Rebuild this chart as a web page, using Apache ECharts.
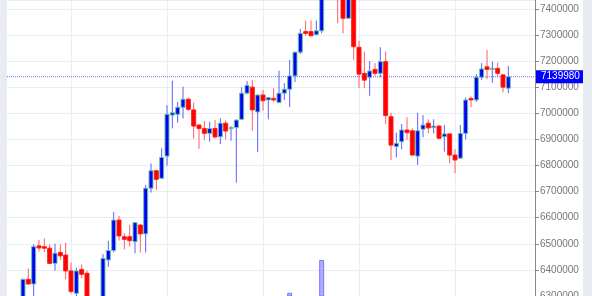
<!DOCTYPE html>
<html>
<head>
<meta charset="utf-8">
<script src="https://cdn.jsdelivr.net/npm/echarts@6/dist/echarts.min.js"></script>
<style>
  html, body { margin: 0; padding: 0; background: #e8ebef; }
  #chart { position: absolute; left: 7px; top: 0; width: 576px; height: 296px; background: #fff; }
</style>
</head>
<body>
<div id="chart"></div>
<script>
// first candle sits on category 3 of the axis
const FIRST = 3;
const categories = Array.from({length: 100}, (_, i) => String(i));

const opens = [
  6266000, 6364000, 6346000, 6492000, 6489000, 6483000, 6425000, 6467000, 6457000, 6396000,
  6310000, 6402000, 6387000, 6262000, 6245000, 6270000, 6438000, 6474000, 6591000, 6527000,
  6527000, 6508000, 6572000, 6538000, 6713000, 6780000, 6751000, 6836000, 6993000, 6996000,
  7023000, 7054000, 7013000, 6955000, 6942000, 6923000, 6942000, 6910000, 6962000, 6941000,
  6945000, 6977000, 7077000, 7100000, 7005000, 7070000, 7051000, 7057000, 7041000, 7077000,
  7092000, 7143000, 7234000, 7313000, 7313000, 7301000, 7316000, 7490000, 7540000, 7520000,
  7470000, 7364000, 7445000, 7253000, 7153000, 7138000, 7168000, 7153000, 7198000, 6987000,
  6872000, 6891000, 6936000, 6933000, 6836000, 6939000, 6962000, 6945000, 6951000, 6910000,
  6921000, 6840000, 6828000, 6923000, 7057000, 7051000, 7138000, 7178000, 7168000, 7172000,
  7147000, 7096000
];
const closes = [
  6364000, 6346000, 6489000, 6484000, 6483000, 6425000, 6464000, 6454000, 6396000, 6317000,
  6396000, 6383000, 6266000, 6240000, 6270000, 6444000, 6474000, 6591000, 6530000, 6517000,
  6512000, 6581000, 6538000, 6713000, 6780000, 6747000, 6831000, 6996000, 7002000, 7023000,
  7054000, 7015000, 6951000, 6942000, 6923000, 6942000, 6909000, 6962000, 6932000, 6945000,
  6974000, 7077000, 7107000, 7013000, 7070000, 7048000, 7060000, 7051000, 7077000, 7092000,
  7143000, 7234000, 7306000, 7306000, 7297000, 7316000, 7491000, 7540000, 7510000, 7450000,
  7364000, 7445000, 7255000, 7150000, 7127000, 7162000, 7153000, 7198000, 6991000, 6878000,
  6885000, 6936000, 6926000, 6840000, 6933000, 6955000, 6944000, 6951000, 6904000, 6921000,
  6840000, 6821000, 6923000, 7051000, 7051000, 7138000, 7170000, 7168000, 7172000, 7153000,
  7100000, 7139980
];
const lows = [
  6250000, 6344000, 6285000, 6470000, 6467000, 6424000, 6397000, 6438000, 6364000, 6310000,
  6292000, 6368000, 6250000, 6225000, 6230000, 6262000, 6412000, 6467000, 6512000, 6479000,
  6489000, 6464000, 6466000, 6467000, 6696000, 6706000, 6749000, 6799000, 6942000, 6964000,
  6980000, 7010000, 6903000, 6864000, 6898000, 6891000, 6904000, 6882000, 6900000, 6895000,
  6734000, 6975000, 7073000, 6933000, 6851000, 7010000, 6977000, 7044000, 7039000, 7051000,
  7024000, 7120000, 7227000, 7297000, 7295000, 7299000, 7306000, 7450000, 7470000, 7345000,
  7306000, 7362000, 7204000, 7096000, 7096000, 7067000, 7143000, 7138000, 6959000, 6821000,
  6831000, 6862000, 6898000, 6838000, 6802000, 6908000, 6923000, 6923000, 6902000, 6853000,
  6808000, 6770000, 6826000, 6900000, 7023000, 7044000, 7127000, 7131000, 7117000, 7140000,
  7080000, 7077000
];
const highs = [
  6366000, 6406000, 6498000, 6515000, 6521000, 6498000, 6500000, 6498000, 6504000, 6428000,
  6408000, 6421000, 6397000, 6285000, 6288000, 6460000, 6511000, 6622000, 6607000, 6540000,
  6572000, 6583000, 6574000, 6725000, 6808000, 6782000, 6866000, 7031000, 7125000, 7044000,
  7102000, 7061000, 7041000, 6957000, 6970000, 6968000, 6974000, 6981000, 6972000, 6951000,
  6976000, 7100000, 7124000, 7127000, 7072000, 7089000, 7062000, 7096000, 7163000, 7115000,
  7204000, 7236000, 7323000, 7355000, 7355000, 7355000, 7511000, 7560000, 7575000, 7535000,
  7480000, 7460000, 7455000, 7278000, 7236000, 7200000, 7192000, 7253000, 7236000, 7002000,
  6926000, 6959000, 6985000, 6942000, 7002000, 6993000, 6977000, 6977000, 6955000, 6955000,
  6923000, 6863000, 6955000, 7061000, 7064000, 7150000, 7192000, 7242000, 7198000, 7194000,
  7150000, 7182000
];
const volumes = [
  180, 150, 210, 120, 110, 140, 130, 100, 160, 220,
  190, 120, 170, 200, 160, 230, 170, 250, 160, 110,
  120, 140, 130, 260, 200, 150, 180, 270, 220, 140,
  160, 110, 190, 130, 120, 110, 120, 130, 110, 100,
  240, 210, 150, 230, 250, 140, 120, 130, 190, 150,
  312, 260, 230, 150, 140, 130, 434, 290, 280, 270,
  200, 180, 280, 240, 190, 160, 130, 180, 260, 250,
  170, 150, 140, 200, 220, 130, 120, 110, 150, 160,
  190, 210, 200, 250, 120, 220, 160, 170, 120, 130,
  170, 160
];
const lastPrice = 7139980;

const candleData = opens.map((o, i) => [i + FIRST, o, closes[i], lows[i], highs[i]]);
const volumeData = volumes.map((v, i) => [i + FIRST, v]);
// last price runs across the whole plot
const lastPriceLine = [[0, lastPrice], [categories.length - 1, lastPrice]];

function renderCandle(params, api){
  const x = api.value(0);
  const o = api.value(1), c = api.value(2), l = api.value(3), h = api.value(4);
  const pO = api.coord([x, o]), pC = api.coord([x, c]);
  const pL = api.coord([x, l]), pH = api.coord([x, h]);
  const up = c >= o;
  const w = 4;
  const top = Math.min(pO[1], pC[1]);
  const hgt = Math.max(Math.abs(pO[1] - pC[1]), 1);
  return {
    type: "group",
    children: [
      { type: "line", shape: { x1: pH[0], y1: pH[1], x2: pL[0], y2: pL[1] },
        style: { stroke: up ? "#5f5fff" : "#ff5f5f", lineWidth: 1 } },
      { type: "rect", shape: { x: pO[0] - w / 2, y: top, width: w, height: hgt },
        style: { fill: up ? "#0000ff" : "#ff0000", stroke: up ? "#6cc49a" : "#ff2020", lineWidth: 1 } }
    ]
  };
}

const chart = echarts.init(document.getElementById("chart"));
const gridColor = "#e8eef4";
const lineBlue = "#6a6aff";

chart.setOption({
  animation: false,
  grid: { left: 0, right: 48, top: 0, bottom: 0, containLabel: false, outerBoundsMode: "none" },
  xAxis: {
    type: "category",
    data: categories,
    boundaryGap: false,
    axisLine: { show: false },
    axisTick: { show: false },
    axisLabel: { show: false },
    splitLine: { show: true, interval: (idx) => idx % 18 === 12, lineStyle: { color: gridColor, width: 1 } }
  },
  yAxis: [{
    type: "value",
    position: "right",
    min: 6300000,
    max: 7434000,
    interval: 100000,
    axisLine: { show: true, lineStyle: { color: "#8a8a8a" } },
    axisTick: { show: true, length: 4, lineStyle: { color: "#8a8a8a" } },
    axisLabel: {
      color: "#777", fontSize: 10, margin: 5, showMaxLabel: false,
      fontFamily: "Liberation Sans, Arial, sans-serif",
      formatter: (v) => String(v)
    },
    splitLine: { show: true, lineStyle: { color: gridColor, width: 1 } }
  }, {
    type: "value",
    min: 300,
    max: 1400,
    show: false,
    splitLine: { show: false }
  }],
  series: [{
    type: "bar",
    yAxisIndex: 1,
    data: volumeData,
    barWidth: 5,
    z: 1,
    itemStyle: { color: "rgba(110,110,255,0.55)", borderColor: "rgba(90,90,255,0.75)", borderWidth: 1 }
  }, {
    type: "line",
    data: lastPriceLine,
    symbol: "none",
    z: 2,
    silent: true,
    lineStyle: { color: lineBlue, type: [1, 1], width: 1 },
    endLabel: {
      show: true,
      distance: 1,
      formatter: String(lastPrice),
      backgroundColor: "#0000ff",
      color: "#fff",
      fontSize: 10,
      fontFamily: "Liberation Sans, Arial, sans-serif",
      padding: [2, 4, 1, 5]
    }
  }, {
    type: "custom",
    renderItem: renderCandle,
    data: candleData,
    encode: { x: 0, y: [1, 2, 3, 4] },
    z: 3
  }]
});
</script>
</body>
</html>
